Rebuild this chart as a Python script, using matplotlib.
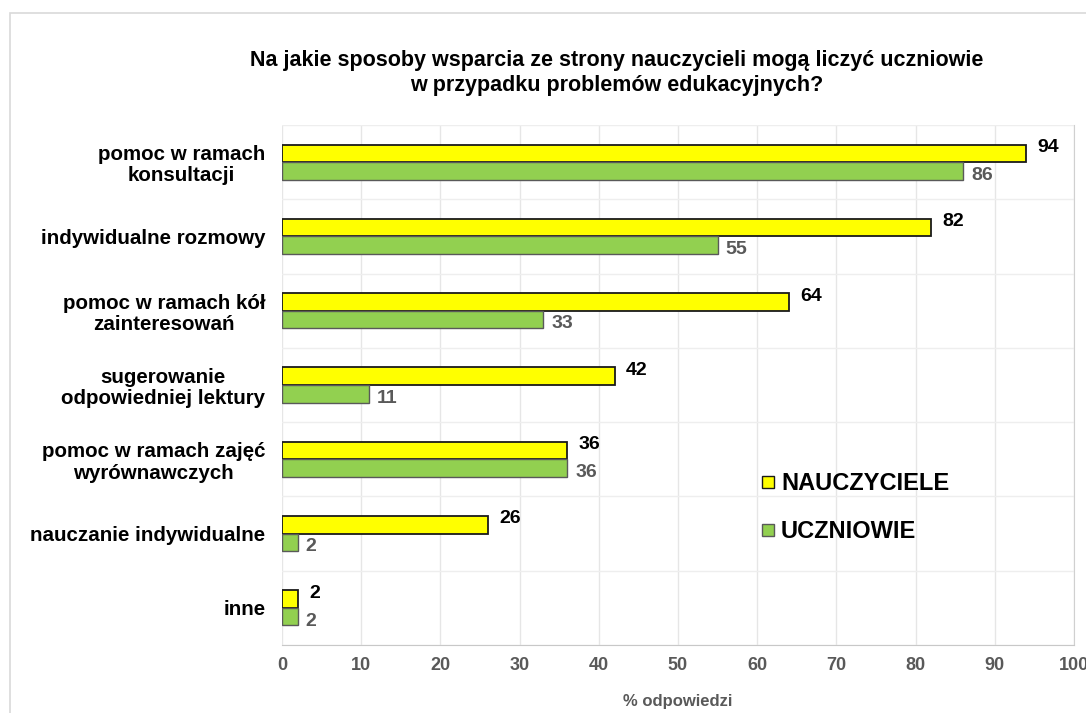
import numpy as np
import matplotlib.pyplot as plt
from matplotlib.patches import Rectangle
from matplotlib.lines import Line2D

plt.rcParams['font.family'] = ['Liberation Sans', 'DejaVu Sans']

categories = ['pomoc w ramach\nkonsultacji', 'indywidualne rozmowy',
              'pomoc w ramach kół\nzainteresowań', 'sugerowanie\nodpowiedniej lektury',
              'pomoc w ramach zajęć\nwyrównawczych', 'nauczanie indywidualne', 'inne']
nauczyciele = [94, 82, 64, 42, 36, 26, 2]
uczniowie = [86, 55, 33, 11, 36, 2, 2]
xticks = list(range(0, 101, 10))

fig = plt.figure(figsize=(10.86, 7.13), dpi=100)
# outer frame of the chart
fig.patches.append(Rectangle((10 / 1086, -0.05), 1.1, 1 - 13 / 713 + 0.05,
                             transform=fig.transFigure, fill=False,
                             edgecolor='#d9d9d9', linewidth=1.2))
ax = fig.add_axes([282 / 1086, 1 - 645 / 713, (1074 - 282) / 1086, (645 - 125) / 713])

y = np.arange(len(categories))
h = 0.236
ax.barh(y - h / 2, nauczyciele, height=h, color='#ffff00', edgecolor='#1a1a1a',
        linewidth=1.3, zorder=3, label='NAUCZYCIELE')
ax.barh(y + h / 2, uczniowie, height=h, color='#92d050', edgecolor='#595959',
        linewidth=1.0, zorder=3, label='UCZNIOWIE')

for yi, v in zip(y, nauczyciele):
    ax.text(v + 1.4, yi - h / 2 - 0.08, str(v), ha='left', va='center',
            fontsize=14, fontweight='bold', color='black')
for yi, v in zip(y, uczniowie):
    ax.text(v + 1.0, yi + h / 2 + 0.06, str(v), ha='left', va='center',
            fontsize=14, fontweight='bold', color='#595959')

ax.set_xlim(0, 100)
ax.set_ylim(len(categories) - 0.5, -0.5)
ax.set_xticks(xticks)
ax.set_xticklabels([str(t) for t in xticks], fontsize=13, fontweight='bold', color='#595959')
ax.set_yticks(y)
ax.set_yticklabels(categories, fontsize=14.8, fontweight='bold', color='black',
                   multialignment='center', linespacing=1.15)
ax.set_yticks(np.arange(len(categories) + 1) - 0.5, minor=True)
ax.tick_params(axis='both', which='both', length=0)
ax.tick_params(axis='x', pad=9)
ax.tick_params(axis='y', pad=12)
ax.grid(axis='x', color='#e6e6e6', linewidth=1, zorder=0)
ax.grid(axis='y', which='minor', color='#eeeeee', linewidth=1, zorder=0)
for s in ['top', 'left']:
    ax.spines[s].set_visible(False)
ax.spines['bottom'].set_color('#c8c8c8')
ax.spines['right'].set_color('#d0d0d0')

ax.set_xlabel('% odpowiedzi', fontsize=12, fontweight='bold', color='#595959', labelpad=14)

fig.text(617 / 1086, 1 - 73 / 713,
         'Na jakie sposoby wsparcia ze strony nauczycieli mogą liczyć uczniowie\n'
         'w przypadku problemów edukacyjnych?',
         ha='center', va='center', fontsize=15.5, fontweight='bold', linespacing=1.25)

handles = [Line2D([], [], marker='s', linestyle='none', markersize=9,
                  markerfacecolor='#ffff00', markeredgecolor='#1a1a1a'),
           Line2D([], [], marker='s', linestyle='none', markersize=9,
                  markerfacecolor='#92d050', markeredgecolor='#595959')]
ax.legend(handles, ['NAUCZYCIELE', 'UCZNIOWIE'], loc='upper left',
          bbox_to_anchor=((735 - 282) / 792, (645 - 451) / 520), frameon=False,
          prop={'size': 17, 'weight': 'bold'}, handletextpad=0.05,
          handlelength=1.0, labelspacing=1.05)

fig.savefig('out.png', dpi=100)
